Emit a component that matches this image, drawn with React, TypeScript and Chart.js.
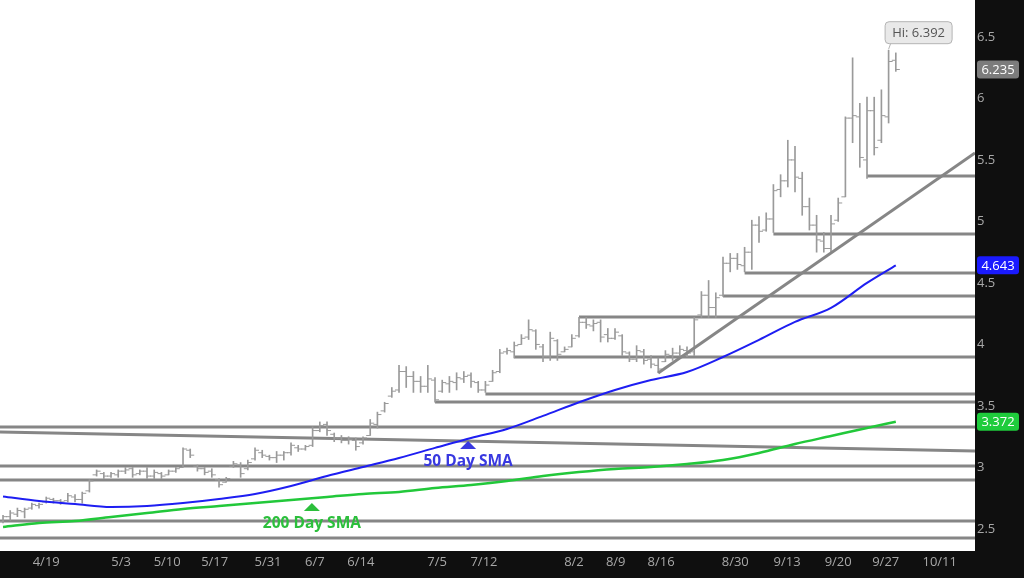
import React, { useEffect, useRef } from "react";
import { Chart, registerables } from "chart.js";
Chart.register(...registerables);

// ---- price bars (one per trading day, index 0..124) ----
const highs = [
  2.61, 2.65, 2.67, 2.67, 2.71, 2.71, 2.76, 2.75, 2.74, 2.79,
  2.78, 2.80, 2.90, 2.98, 2.96, 2.96, 2.98, 3.00, 3.00, 2.98,
  3.00, 2.98, 2.96, 2.98, 3.00, 3.16, 3.15, 3.02, 3.00, 2.99,
  2.91, 2.92, 3.05, 3.04, 3.06, 3.16, 3.14, 3.10, 3.13, 3.13,
  3.20, 3.18, 3.18, 3.33, 3.37, 3.37, 3.28, 3.26, 3.25, 3.24,
  3.25, 3.39, 3.45, 3.53, 3.65, 3.83, 3.82, 3.78, 3.74, 3.83,
  3.73, 3.71, 3.74, 3.77, 3.78, 3.77, 3.70, 3.70, 3.79, 3.96,
  3.97, 4.02, 4.08, 4.20, 4.12, 4.00, 4.10, 4.04, 3.98, 4.08,
  4.22, 4.22, 4.20, 4.20, 4.13, 4.13, 4.08, 3.94, 3.99, 3.96,
  3.91, 3.89, 3.95, 3.97, 3.99, 3.98, 4.22, 4.43, 4.52, 4.42,
  4.71, 4.74, 4.74, 4.79, 5.01, 5.04, 5.07, 5.30, 5.38, 5.66,
  5.61, 5.40, 5.19, 5.05, 4.91, 5.05, 5.19, 5.85, 6.33, 5.96,
  6.01, 6.01, 6.07, 6.392, 6.37,
];
const lows = [
  2.55, 2.57, 2.60, 2.59, 2.66, 2.67, 2.71, 2.71, 2.70, 2.72,
  2.72, 2.71, 2.80, 2.93, 2.91, 2.92, 2.92, 2.95, 2.92, 2.94,
  2.91, 2.91, 2.91, 2.94, 2.96, 3.00, 3.08, 2.97, 2.94, 2.92,
  2.84, 2.88, 3.00, 2.92, 2.98, 3.06, 3.08, 3.06, 3.04, 3.06,
  3.10, 3.13, 3.14, 3.17, 3.29, 3.26, 3.21, 3.20, 3.19, 3.14,
  3.19, 3.26, 3.32, 3.45, 3.57, 3.61, 3.65, 3.61, 3.61, 3.61,
  3.53, 3.61, 3.61, 3.63, 3.69, 3.65, 3.61, 3.61, 3.70, 3.77,
  3.92, 3.89, 4.00, 4.04, 3.96, 3.86, 3.87, 3.87, 3.94, 3.98,
  4.06, 4.13, 4.11, 4.02, 4.02, 4.04, 3.91, 3.86, 3.86, 3.84,
  3.81, 3.77, 3.86, 3.87, 3.90, 3.90, 3.91, 4.22, 4.22, 4.22,
  4.39, 4.59, 4.61, 4.59, 4.61, 4.83, 4.92, 4.91, 5.20, 5.28,
  5.24, 5.05, 4.93, 4.75, 4.75, 4.75, 5.00, 5.20, 5.64, 5.44,
  5.35, 5.54, 5.64, 5.80, 6.22,
];
const opens = [
  2.56, 2.60, 2.62, 2.64, 2.67, 2.69, 2.72, 2.74, 2.73, 2.73,
  2.76, 2.74, 2.81, 2.94, 2.95, 2.93, 2.94, 2.97, 2.99, 2.95,
  2.97, 2.93, 2.95, 2.94, 2.97, 3.00, 3.14, 3.01, 2.99, 2.97,
  2.90, 2.88, 3.01, 3.02, 2.99, 3.07, 3.12, 3.09, 3.08, 3.10,
  3.12, 3.16, 3.15, 3.18, 3.30, 3.35, 3.27, 3.24, 3.22, 3.22,
  3.20, 3.26, 3.35, 3.46, 3.58, 3.63, 3.78, 3.74, 3.70, 3.66,
  3.71, 3.62, 3.68, 3.69, 3.72, 3.75, 3.69, 3.63, 3.70, 3.78,
  3.94, 3.94, 4.00, 4.06, 4.11, 3.98, 3.90, 4.03, 3.94, 3.98,
  4.07, 4.18, 4.15, 4.18, 4.08, 4.05, 4.07, 3.93, 3.88, 3.94,
  3.88, 3.83, 3.86, 3.91, 3.93, 3.95, 3.94, 4.24, 4.40, 4.30,
  4.40, 4.66, 4.70, 4.64, 4.75, 4.97, 4.93, 5.02, 5.26, 5.33,
  5.50, 5.35, 5.12, 4.97, 4.84, 4.78, 5.01, 5.20, 5.84, 5.85,
  5.50, 5.90, 5.66, 5.85, 6.31,
];
const closes = [
  2.60, 2.63, 2.65, 2.66, 2.70, 2.70, 2.75, 2.73, 2.72, 2.77,
  2.74, 2.79, 2.89, 2.97, 2.93, 2.95, 2.97, 2.98, 2.94, 2.97,
  2.93, 2.96, 2.93, 2.97, 2.99, 3.15, 3.10, 2.99, 2.96, 2.94,
  2.86, 2.91, 3.03, 2.95, 3.04, 3.14, 3.10, 3.08, 3.10, 3.12,
  3.18, 3.15, 3.17, 3.30, 3.34, 3.30, 3.24, 3.22, 3.23, 3.17,
  3.24, 3.36, 3.43, 3.52, 3.62, 3.78, 3.74, 3.70, 3.66, 3.72,
  3.55, 3.69, 3.70, 3.73, 3.74, 3.70, 3.63, 3.67, 3.77, 3.93,
  3.95, 3.99, 4.05, 4.12, 4.00, 3.90, 4.05, 3.92, 3.96, 4.05,
  4.18, 4.16, 4.17, 4.06, 4.05, 4.10, 3.94, 3.88, 3.95, 3.87,
  3.84, 3.80, 3.92, 3.93, 3.96, 3.93, 4.20, 4.40, 4.30, 4.38,
  4.66, 4.70, 4.65, 4.75, 4.97, 4.92, 5.02, 5.25, 5.33, 5.50,
  5.36, 5.12, 4.97, 4.85, 4.78, 4.98, 5.15, 5.84, 5.86, 5.52,
  5.90, 5.60, 5.86, 6.30, 6.235,
];

// ---- moving averages, read at every 5th day ----
const smaDays = [0, 5, 10, 15, 20, 25, 30, 35, 40, 45, 50, 55, 60, 65, 70, 75, 80, 85, 90, 95, 100, 105, 110, 115, 120, 124];
const sma50 = [2.764, 2.728, 2.703, 2.679, 2.687, 2.711, 2.744, 2.785, 2.850, 2.931, 3.004, 3.077, 3.159, 3.240, 3.313, 3.419, 3.530, 3.630, 3.711, 3.776, 3.898, 4.037, 4.183, 4.297, 4.500, 4.643];
const sma200 = [2.516, 2.549, 2.565, 2.598, 2.630, 2.663, 2.687, 2.711, 2.736, 2.760, 2.785, 2.801, 2.833, 2.858, 2.890, 2.931, 2.963, 2.988, 3.004, 3.028, 3.061, 3.118, 3.191, 3.256, 3.321, 3.372];

// ---- support / resistance levels (start day, price); start null = whole chart ----
const levelStarts: (number | null)[] = [120, 107, 103, 100, 80, 71, 67, 60, null, null, null, null, null];
const levelPrices = [5.37, 4.898, 4.581, 4.394, 4.224, 3.898, 3.598, 3.533, 3.329, 3.012, 2.898, 2.565, 2.427];
const slopeLine = { fromPrice: 3.289, toPrice: 3.134 };
const trendLine = { fromDay: 91, fromPrice: 3.768, toPrice: 5.557 };

// ---- axes ----
const xTickDays = [6.0, 16.4, 22.8, 29.4, 36.8, 43.3, 49.7, 60.3, 66.8, 79.3, 85.1, 91.4, 101.7, 108.9, 116.0, 122.6, 130.1];
const xTickLabels = ["4/19", "5/3", "5/10", "5/17", "5/31", "6/7", "6/14", "7/5", "7/12", "8/2", "8/9", "8/16", "8/30", "9/13", "9/20", "9/27", "10/11"];
const yTicks = [2.5, 3, 3.5, 4, 4.5, 5, 5.5, 6, 6.5];
const X_MIN = -0.42;
const X_MAX = 135;
const Y_MIN = 2.321;
const Y_MAX = 6.8;

// ---- annotations ----
const hiDay = 123;
const hiText = "Hi: 6.392";
const lastCloseText = "6.235";
const sma50Text = "4.643";
const sma200Text = "3.372";
const sma50Label = { day: 64.6, price: 3.215, text: "50 Day SMA" };
const sma200Label = { day: 42.9, price: 2.711, text: "200 Day SMA" };

const BAR = "#9a9a9a";
const LEVEL = "#868686";
const BLUE = "#1e1ef2";
const GREEN = "#22c83a";

export default function App() {
  const ref = useRef<HTMLCanvasElement | null>(null);
  useEffect(() => {
    const canvas = ref.current;
    if (!canvas) return;
    const endX = X_MAX;

    const levelSets = levelPrices.map((p, k) => ({
      type: "line" as const,
      data: [
        { x: levelStarts[k] ?? X_MIN, y: p },
        { x: endX, y: p },
      ],
      borderColor: LEVEL,
      borderWidth: 3,
      pointRadius: 0,
      order: 3,
    }));

    const noPad = (s: any) => {
      s.paddingTop = 0;
      s.paddingBottom = 0;
      s.paddingLeft = 0;
      s.paddingRight = 0;
    };

    const annotate = {
      id: "annotate",
      beforeDraw(chart: any) {
        const { ctx, chartArea } = chart;
        ctx.save();
        ctx.fillStyle = "#0f0f0f";
        ctx.fillRect(0, 0, chart.width, chart.height);
        ctx.fillStyle = "#ffffff";
        ctx.fillRect(chartArea.left, chartArea.top, chartArea.right - chartArea.left, chartArea.bottom - chartArea.top);
        ctx.restore();
      },
      afterDraw(chart: any) {
        const { ctx, chartArea } = chart;
        const xs = chart.scales.x;
        const ys = chart.scales.y;
        ctx.save();
        // axis value tags
        const tags: [number, string, string][] = [
          [closes[closes.length - 1], lastCloseText, "#7c7c7c"],
          [sma50[sma50.length - 1], sma50Text, "#1a1aff"],
          [sma200[sma200.length - 1], sma200Text, "#1fcc3c"],
        ];
        ctx.font = "13px 'Open Sans'";
        ctx.textAlign = "center";
        ctx.textBaseline = "middle";
        for (const [v, t, c] of tags) {
          const y = ys.getPixelForValue(v);
          const x0 = chartArea.right + 2;
          ctx.fillStyle = c;
          ctx.beginPath();
          ctx.roundRect(x0, y - 9, 42, 18, 3);
          ctx.fill();
          ctx.fillStyle = "#ffffff";
          ctx.fillText(t, x0 + 21, y + 0.5);
        }
        // Hi callout
        const hx = xs.getPixelForValue(hiDay);
        const hy = ys.getPixelForValue(highs[hiDay]);
        const bx = hx - 4, bw = 67, bh = 22, by = hy - 7 - bh;
        ctx.fillStyle = "#e9e9e9";
        ctx.strokeStyle = "#b4b4b4";
        ctx.lineWidth = 1;
        ctx.beginPath();
        ctx.roundRect(bx + 0.5, by + 0.5, bw, bh, 4);
        ctx.fill();
        ctx.stroke();
        ctx.beginPath();
        ctx.moveTo(bx + 6, by + bh + 0.5);
        ctx.lineTo(hx, hy - 1);
        ctx.stroke();
        ctx.fillStyle = "#555555";
        ctx.font = "13px 'Open Sans'";
        ctx.fillText(hiText, bx + bw / 2 + 0.5, by + bh / 2 + 1);
        // SMA labels
        const labels: [typeof sma50Label, string][] = [
          [sma50Label, "#3838e0"],
          [sma200Label, "#2cbf3c"],
        ];
        for (const [l, c] of labels) {
          const x = xs.getPixelForValue(l.day);
          const y = ys.getPixelForValue(l.price);
          ctx.fillStyle = c;
          ctx.beginPath();
          ctx.moveTo(x, y);
          ctx.lineTo(x + 8, y + 8);
          ctx.lineTo(x - 8, y + 8);
          ctx.closePath();
          ctx.fill();
          ctx.font = "bold 15.5px 'Open Sans'";
          ctx.fillText(l.text, x, y + 21);
        }
        ctx.restore();
      },
    };

    const chart = new Chart(canvas, {
      type: "bar",
      data: {
        datasets: [
          {
            type: "line",
            data: smaDays.map((d, k) => ({ x: d, y: sma50[k] })),
            borderColor: BLUE,
            borderWidth: 2,
            pointRadius: 0,
            pointHoverRadius: 0,
            cubicInterpolationMode: "monotone",
            order: 0,
          },
          {
            type: "line",
            data: smaDays.map((d, k) => ({ x: d, y: sma200[k] })),
            borderColor: GREEN,
            borderWidth: 2.5,
            pointRadius: 0,
            pointHoverRadius: 0,
            cubicInterpolationMode: "monotone",
            order: 0,
          },
          {
            type: "line",
            data: [
              { x: trendLine.fromDay, y: trendLine.fromPrice },
              { x: endX, y: trendLine.toPrice },
            ],
            borderColor: LEVEL,
            borderWidth: 3,
            pointRadius: 0,
            order: 1,
          },
          {
            type: "line",
            data: [
              { x: X_MIN, y: slopeLine.fromPrice },
              { x: endX, y: slopeLine.toPrice },
            ],
            borderColor: LEVEL,
            borderWidth: 3,
            pointRadius: 0,
            order: 3,
          },
          ...levelSets,
          {
            type: "bar",
            data: highs.map((h, i) => ({ x: i, y: [lows[i], h] })) as any,
            backgroundColor: BAR,
            borderWidth: 0,
            barThickness: 1,
            grouped: false,
            order: 2,
          },
          {
            type: "scatter",
            data: opens.map((o, i) => ({ x: i - 0.28, y: o })),
            pointStyle: "line",
            pointRadius: 2,
            borderColor: BAR,
            borderWidth: 1,
            order: 2,
          },
          {
            type: "scatter",
            data: closes.map((c, i) => ({ x: i + 0.28, y: c })),
            pointStyle: "line",
            pointRadius: 2,
            borderColor: BAR,
            borderWidth: 1,
            order: 2,
          },
        ] as any,
      },
      options: {
        responsive: false,
        animation: false,
        devicePixelRatio: 1,
        layout: { padding: 0, autoPadding: false },
        plugins: { legend: { display: false }, tooltip: { enabled: false } },
        events: [],
        scales: {
          x: {
            type: "linear",
            min: X_MIN,
            max: X_MAX,
            offset: false,
            grid: { display: false, drawTicks: false },
            border: { display: false },
            afterBuildTicks: (s: any) => {
              s.ticks = xTickDays.map((v) => ({ value: v }));
            },
            afterFit: (s: any) => {
              s.height = 27;
              noPad(s);
            },
            ticks: {
              autoSkip: false,
              maxRotation: 0,
              padding: 3,
              color: "#a8a8a8",
              font: { family: "'Open Sans'", size: 13 },
              callback: (v: any) => {
                const k = xTickDays.indexOf(Number(v));
                return k >= 0 ? xTickLabels[k] : "";
              },
            },
          },
          y: {
            type: "linear",
            position: "right",
            min: Y_MIN,
            max: Y_MAX,
            grid: { display: false, drawTicks: false },
            border: { display: false },
            afterBuildTicks: (s: any) => {
              s.ticks = yTicks.map((v) => ({ value: v }));
            },
            afterFit: (s: any) => {
              s.width = 49;
              noPad(s);
            },
            ticks: {
              padding: 2,
              color: "#a8a8a8",
              font: { family: "'Open Sans'", size: 13 },
              callback: (v: any) => String(v),
            },
          },
        },
      },
      plugins: [annotate],
    });
    return () => chart.destroy();
  }, []);

  return (
    <div style={{ position: "fixed", left: 0, top: 0, width: 1024, height: 578, background: "#0f0f0f" }}>
      <canvas ref={ref} width={1024} height={578} style={{ display: "block", width: 1024, height: 578 }} />
    </div>
  );
}
